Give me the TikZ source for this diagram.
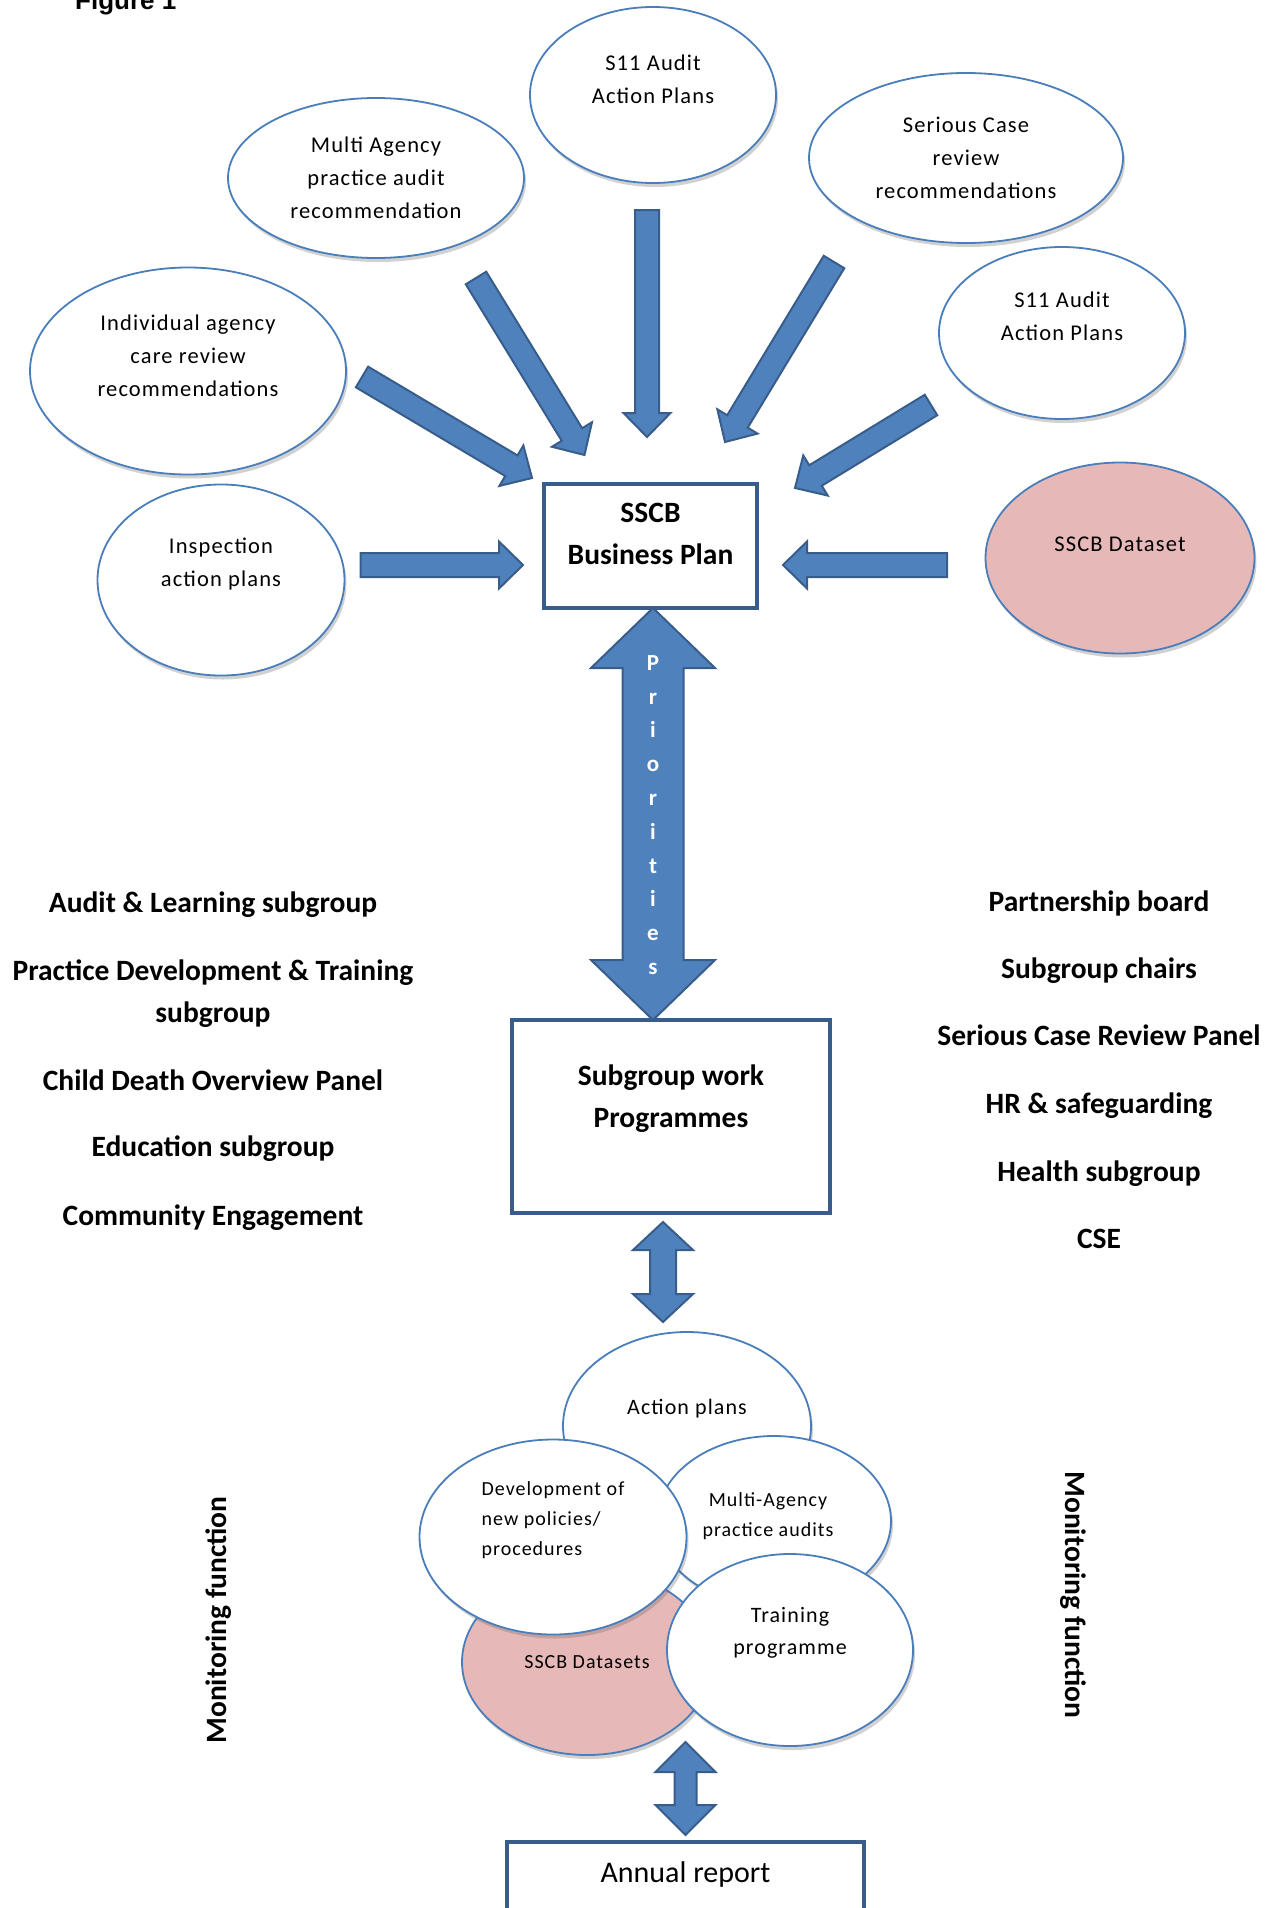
\documentclass[tikz,border=0pt]{standalone}
\usepackage{fontspec}
\setmainfont{Carlito}
\newfontfamily\ellfont[LetterSpace=5]{Carlito}
\newfontfamily\figfont{Liberation Sans}
\usetikzlibrary{shapes.geometric,calc,shadows}

\definecolor{ellline}{HTML}{4A7EBB}
\definecolor{arrowfill}{HTML}{4F81BD}
\definecolor{arrowline}{HTML}{385D8A}
\definecolor{pinkfill}{HTML}{E6B9B8}

\tikzset{
  ell/.style={ellipse, draw=ellline, line width=1.8pt, fill=white, inner sep=0pt, outer sep=0pt,
    drop shadow={shadow xshift=2pt, shadow yshift=-4pt, opacity=0.3, fill=black!60}},
  elltext/.style={font=\ellfont\fontsize{22.5}{33}\selectfont, align=center, inner sep=0pt},
  bigtext/.style={font=\ellfont\fontsize{22}{32}\selectfont, align=center, inner sep=0pt},
  smalltext/.style={font=\ellfont\fontsize{20}{30}\selectfont, align=center, inner sep=0pt},
  planbox/.style={rectangle, draw=arrowline, line width=4.5pt, fill=white, inner sep=0pt, outer sep=0pt},
  subtext/.style={font=\bfseries\fontsize{29.5}{42}\selectfont, align=center, inner sep=0pt},
  arrowbody/.style={draw=arrowline, fill=arrowfill, line width=2pt, line join=miter},
}

% angle, length and start of a block arrow
\newcommand{\arrowsetup}[2]{%
  \path let \p1=(#1), \p2=(#2),
    \n1={atan2(\y2-\y1,\x2-\x1)}, \n2={veclen(\x2-\x1,\y2-\y1)} in
    \pgfextra{\xdef\arang{\n1}\xdef\arlen{\n2}\xdef\arx{\x1}\xdef\ary{\y1}};}
% start, end, half shaft, half head, head length
\newcommand{\onearrow}[5]{%
  \arrowsetup{#1}{#2}%
  \draw[arrowbody, shift={(\arx,\ary)}, rotate=\arang, x=1pt, y=1pt]
    (0,-#3) -- ({\arlen-#5},-#3) -- ({\arlen-#5},-#4) -- (\arlen,0)
    -- ({\arlen-#5},#4) -- ({\arlen-#5},#3) -- (0,#3) -- cycle;}
\newcommand{\twoarrow}[5]{%
  \arrowsetup{#1}{#2}%
  \draw[arrowbody, shift={(\arx,\ary)}, rotate=\arang, x=1pt, y=1pt]
    (0,0) -- (#5,-#4) -- (#5,-#3) -- ({\arlen-#5},-#3) -- ({\arlen-#5},-#4) -- (\arlen,0)
    -- ({\arlen-#5},#4) -- ({\arlen-#5},#3) -- (#5,#3) -- (#5,#4) -- cycle;}

\begin{document}
\begin{tikzpicture}[x=1pt, y=-1pt]
\useasboundingbox (0,0) rectangle (1274,1908);
\clip (0,0) rectangle (1274,1908);

\node[anchor=base west, font=\figfont\bfseries\fontsize{26}{30}\selectfont, inner sep=0pt] (fig) at (75,10) {Figure 1};

% inputs to the business plan
\node[ell, minimum width=246, minimum height=176,
  label={[elltext, name=s11a-t, yshift=16]center:{S11 Audit\\Action Plans}}] (s11a) at (653,95) {};
\node[ell, minimum width=296, minimum height=160,
  label={[elltext, name=multi-t]center:{Multi Agency\\practice audit\\recommendation}}] (multi) at (376,178) {};
\node[ell, minimum width=314, minimum height=170,
  label={[elltext, name=serious-t]center:{Serious Case\\review\\recommendations}}] (serious) at (966,158) {};
\node[ell, minimum width=246, minimum height=172,
  label={[elltext, name=s11b-t, yshift=17]center:{S11 Audit\\Action Plans}}] (s11b) at (1062,333) {};
\node[ell, minimum width=316, minimum height=207,
  label={[elltext, name=indiv-t, yshift=15]center:{Individual agency\\care review\\recommendations}}] (indiv) at (188,371) {};
\node[ell, minimum width=247, minimum height=191,
  label={[elltext, name=insp-t, yshift=16]center:{Inspection\\action plans}}] (insp) at (221,580) {};
\node[ell, fill=pinkfill, minimum width=269, minimum height=191,
  label={[elltext, name=data-t, yshift=14]center:SSCB Dataset}] (data) at (1120,558) {};

% boxes
\node[planbox, minimum width=213, minimum height=124,
  label={[subtext, name=plan-t, yshift=12]center:{SSCB\\Business Plan}}] (plan) at (650.5,546) {};
\node[planbox, minimum width=318, minimum height=193,
  label={[subtext, name=sub-t, yshift=17.5]center:{Subgroup work\\Programmes}}] (sub) at (671,1116.5) {};
\node[planbox, anchor=north, minimum width=357, minimum height=140,
  label={[font=\fontsize{30}{36}\selectfont, inner sep=0pt, name=annual-t, yshift=38]center:Annual report}] (annual) at (685.5,1842) {};

% groups
\node[subtext, anchor=base] (audit) at (213,912.5) {Audit \& Learning subgroup};
\node[subtext] (practice) at (213,994) {Practice Development \& Training\\subgroup};
\node[subtext, anchor=base] (cdop) at (213,1090.5) {Child Death Overview Panel};
\node[subtext, anchor=base] (educ) at (213,1156.5) {Education subgroup};
\node[subtext, anchor=base] (commun) at (213,1225.5) {Community Engagement};

\node[subtext, anchor=base] (board) at (1099,911.5) {Partnership board};
\node[subtext, anchor=base] (chairs) at (1099,978.5) {Subgroup chairs};
\node[subtext, anchor=base] (scrp) at (1099,1045.5) {Serious Case Review Panel};
\node[subtext, anchor=base] (hr) at (1099,1113.5) {HR \& safeguarding};
\node[subtext, anchor=base] (health) at (1099,1181.5) {Health subgroup};
\node[subtext, anchor=base] (cse) at (1099,1248.5) {CSE};

\node[subtext, rotate=90] (monl) at (219,1620) {Monitoring function};
\node[subtext, rotate=-90] (monr) at (1073,1595) {Monitoring function};

% monitoring cluster
\node[ell, minimum width=248, minimum height=188,
  label={[bigtext, name=actionp-t, yshift=17]center:Action plans}] (actionp) at (687,1426) {};
\node[ell, minimum width=234, minimum height=170,
  label={[smalltext, name=mapa-t, xshift=-6, yshift=5]center:{Multi-Agency\\practice audits}}] (mapa) at (774,1521) {};
\node[ell, fill=pinkfill, minimum width=250, minimum height=186,
  label={[smalltext, name=dsets-t]center:SSCB Datasets}] (dsets) at (587,1662) {};
\node[ell, minimum width=267, minimum height=195,
  label={[smalltext, align=left, name=devel-t, yshift=17]center:{Development of\\new policies/\\procedures}}] (devel) at (553,1537) {};
\node[ell, minimum width=246, minimum height=192,
  label={[bigtext, name=train-t, yshift=17]center:{Training\\programme}}] (train) at (790,1650) {};

% arrows
\onearrow{$(insp.east)+(16,-15)$}{$(plan.west)+(-21,19)$}{12}{23.5}{24}
\onearrow{$(indiv.east)+(16,6)$}{$(plan.north west)+(-12,-6)$}{12}{23.5}{24}
\onearrow{$(multi.south)+(100,20)$}{$(plan.north)+(-66,-29)$}{12}{23.5}{24}
\onearrow{$(s11a.south)+(-6,27)$}{$(plan.north)+(-3.5,-47)$}{12}{23.5}{24}
\onearrow{$(serious.south)+(-132,19)$}{$(plan.north)+(74.5,-42)$}{12}{23.5}{24}
\onearrow{$(s11b.south)+(-131,-14)$}{$(plan.north east)+(38,4)$}{12}{23.5}{24}
\onearrow{$(data.west)+(-38.5,7)$}{$(plan.east)+(26,19)$}{12}{23.5}{24}

\twoarrow{$(plan.south)+(2.5,0)$}{$(plan.south |- sub.north)+(2.5,0)$}{30.5}{62}{60}
\node[font=\bfseries\fontsize{23}{33.8}\selectfont, text=white, align=center, inner sep=0pt] (prio)
  at ($(plan.south)!0.5!(plan.south |- sub.north)+(2.5,1)$) {P\\r\\i\\o\\r\\i\\t\\i\\e\\s};

\twoarrow{$(sub.south)+(-8,9)$}{$(actionp.north)+(-24,-10)$}{13}{30}{28}
\twoarrow{$(dsets.south -| annual.north)+(0,-13)$}{$(annual.north)+(0,-7)$}{11}{30}{30}
\end{tikzpicture}
\end{document}
